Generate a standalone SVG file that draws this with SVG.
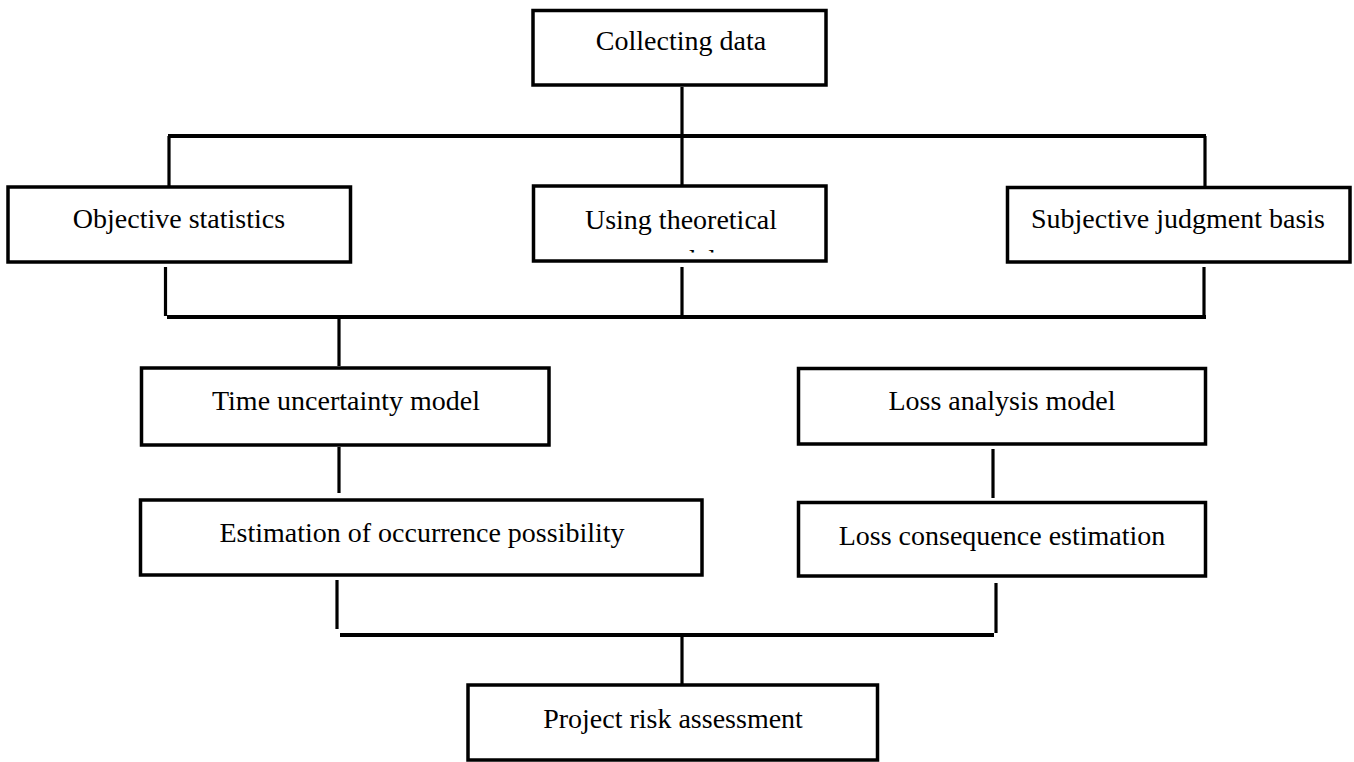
<svg xmlns="http://www.w3.org/2000/svg" width="1354" height="762" viewBox="0 0 1354 762">
  <style>
    .box { fill: #ffffff; stroke: #000000; stroke-width: 3.5; }
    .lbl { font-family: "Liberation Serif", "Times New Roman", serif; font-size: 28px; fill: #000000; text-anchor: middle; }
    .wire { fill: none; stroke: #000000; stroke-width: 3.2; stroke-linecap: butt; }
    .bar { fill: none; stroke: #000000; stroke-width: 4; stroke-linecap: butt; }
  </style>
  <defs>
    <!-- inner text area of the "theory" box; its second line is cut off at the bottom margin -->
    <clipPath id="theoryClip">
      <rect x="536" y="189" width="287" height="63.5"/>
    </clipPath>
  </defs>
  <rect x="0" y="0" width="1354" height="762" fill="#ffffff"/>

  <!-- connectors -->
  <g id="connectors">
    <!-- collecting data fans out to the three sources -->
    <line class="wire" x1="682" y1="87" x2="682" y2="136"/>
    <line class="bar" x1="168" y1="136" x2="1206" y2="136"/>
    <line class="wire" x1="169" y1="136" x2="169" y2="186"/>
    <line class="wire" x1="682" y1="136" x2="682" y2="186"/>
    <line class="wire" x1="1205" y1="136" x2="1205" y2="186"/>

    <!-- the three sources merge into the time model -->
    <line class="wire" x1="165.5" y1="267" x2="165.5" y2="316"/>
    <line class="wire" x1="682" y1="267" x2="682" y2="317"/>
    <line class="wire" x1="1204" y1="267" x2="1204" y2="317"/>
    <line class="bar" x1="167" y1="317" x2="1206" y2="317"/>
    <line class="wire" x1="339" y1="319" x2="339" y2="366"/>

    <!-- left and right chains -->
    <line class="wire" x1="339" y1="447" x2="339" y2="493"/>
    <line class="wire" x1="993" y1="449" x2="993" y2="498"/>

    <!-- both estimates merge into the assessment -->
    <line class="wire" x1="337" y1="580" x2="337" y2="629"/>
    <line class="wire" x1="996" y1="583" x2="996" y2="633"/>
    <line class="bar" x1="340" y1="635" x2="994" y2="635"/>
    <line class="wire" x1="682" y1="637" x2="682" y2="685"/>
  </g>

  <g id="collecting">
    <rect class="box" x="533" y="10.5" width="293" height="74.5"/>
    <text class="lbl" x="681" y="50">Collecting data</text>
  </g>

  <g id="objective">
    <rect class="box" x="8" y="187" width="342.5" height="75"/>
    <text class="lbl" x="179" y="228">Objective statistics</text>
  </g>

  <g id="theory">
    <rect class="box" x="533.5" y="186" width="292.5" height="75"/>
    <text class="lbl" x="681" y="229">Using theoretical</text>
    <text class="lbl" x="681" y="269" clip-path="url(#theoryClip)">model</text>
  </g>

  <g id="subjective">
    <rect class="box" x="1007.5" y="187.5" width="342.5" height="74.5"/>
    <text class="lbl" x="1178" y="228">Subjective judgment basis</text>
  </g>

  <g id="timeModel">
    <rect class="box" x="141.5" y="368" width="407.5" height="77"/>
    <text class="lbl" x="346" y="410">Time uncertainty model</text>
  </g>

  <g id="lossModel">
    <rect class="box" x="798.5" y="368.5" width="407" height="75.5"/>
    <text class="lbl" x="1002" y="410">Loss analysis model</text>
  </g>

  <g id="occurrence">
    <rect class="box" x="140.5" y="500" width="561.5" height="75"/>
    <text class="lbl" x="422" y="542">Estimation of occurrence possibility</text>
  </g>

  <g id="consequence">
    <rect class="box" x="798.5" y="502.5" width="407" height="73.5"/>
    <text class="lbl" x="1002" y="545">Loss consequence estimation</text>
  </g>

  <g id="assessment">
    <rect class="box" x="468" y="685" width="409.5" height="75"/>
    <text class="lbl" x="673" y="728">Project risk assessment</text>
  </g>
</svg>
